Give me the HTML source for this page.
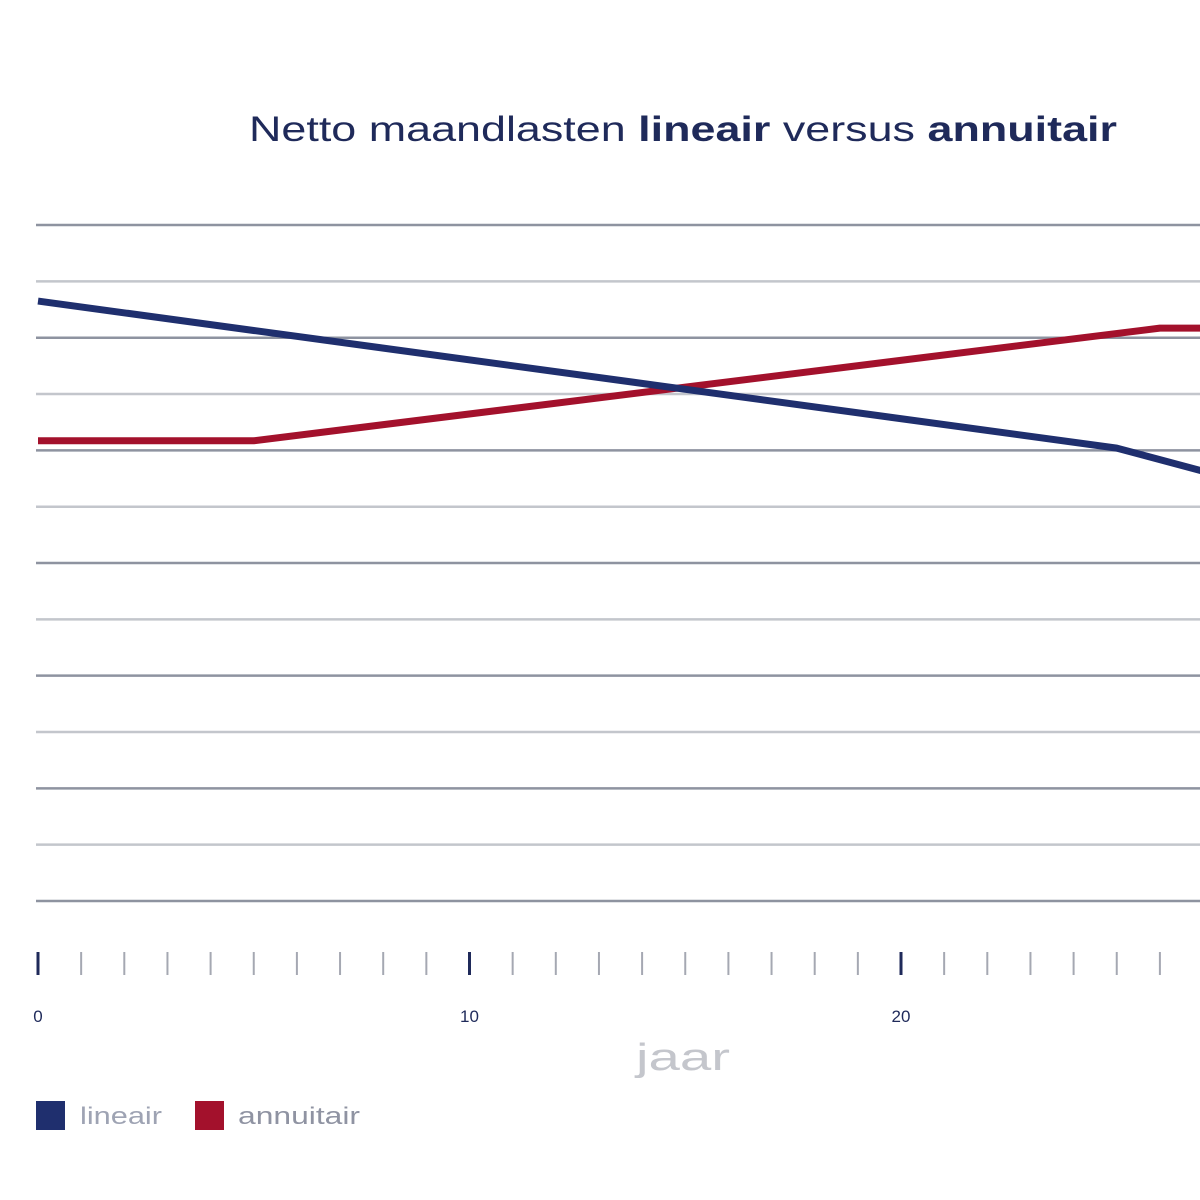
<!DOCTYPE html>
<html><head><meta charset="utf-8"><style>
html,body{margin:0;padding:0;background:#fff;width:1200px;height:1200px;overflow:hidden}
svg{display:block}
</style></head><body>
<svg width="1200" height="1200" xmlns="http://www.w3.org/2000/svg" style="font-family:'Liberation Sans',sans-serif">
<text x="249" y="141" font-size="35" fill="#1f2a5a" textLength="868" lengthAdjust="spacingAndGlyphs">Netto maandlasten <tspan font-weight="bold">lineair</tspan> versus <tspan font-weight="bold">annuitair</tspan></text>
<g id="grid"></g><g id="ticks"></g><g id="lines"></g>
<text x="636" y="1070" font-size="38" fill="#c4c6cc" textLength="94" lengthAdjust="spacingAndGlyphs">jaar</text>
<rect x="36" y="1101" width="29" height="29" fill="#1f2f6e"/>
<text x="80" y="1124" font-size="24" fill="#9ea3b3" textLength="82" lengthAdjust="spacingAndGlyphs">lineair</text>
<rect x="195" y="1101" width="29" height="29" fill="#a3112c"/>
<text x="238" y="1124" font-size="24" fill="#8f93a2" textLength="122" lengthAdjust="spacingAndGlyphs">annuitair</text>
</svg>
<script>
const linYears=[0,25,27];
const linValues=[10.65,8.04,7.63];
const annYears=[0,5,26,27];
const annValues=[8.17,8.17,10.17,10.17];
const tickYears=[0,1,2,3,4,5,6,7,8,9,10,11,12,13,14,15,16,17,18,19,20,21,22,23,24,25,26,27];
const tickLabels=['0','10','20'];
const tickLabelYears=[0,10,20];
const gridValues=[0,1,2,3,4,5,6,7,8,9,10,11,12];
const NS='http://www.w3.org/2000/svg';
const X=y=>38+y*43.15, Y=v=>901-v*56.33;
function mk(t,a,p){const e=document.createElementNS(NS,t);for(const k in a)e.setAttribute(k,a[k]);p.appendChild(e);return e;}
const g=document.getElementById('grid');
gridValues.forEach((v,i)=>{const l=mk('line',{x1:36,x2:1200,y1:Y(v),y2:Y(v),stroke:i%2===0?'#8e93a0':'#c3c6cc','stroke-width':2.5},g);

});
const tg=document.getElementById('ticks');
tickYears.forEach(y=>{const major=y%10===0;const l=mk('line',{x1:X(y),x2:X(y),y1:952,y2:975,stroke:major?'#1f2a5a':'#a5a8b2','stroke-width':major?3:2},tg);

});
tickLabelYears.forEach((y,i)=>{const t=mk('text',{x:X(y),y:1022,'font-size':17,fill:'#1f2a5a','text-anchor':'middle'},tg);t.textContent=tickLabels[i];

});
const lg=document.getElementById('lines');
function path(xs,vs){return xs.map((x,i)=>(i?'L':'M')+X(x)+','+Y(vs[i])).join(' ');}
const a=mk('path',{d:path(annYears,annValues),fill:'none',stroke:'#a3112c','stroke-width':7,'stroke-linejoin':'round'},lg);


const b=mk('path',{d:path(linYears,linValues),fill:'none',stroke:'#1f2f6e','stroke-width':7,'stroke-linejoin':'round'},lg);


</script>
</body></html>
